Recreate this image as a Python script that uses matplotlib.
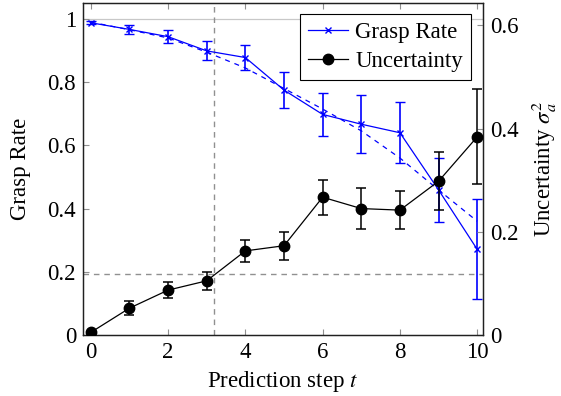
import numpy as np
import matplotlib.pyplot as plt
from matplotlib.lines import Line2D

plt.rcParams['font.family'] = ['Liberation Serif', 'DejaVu Serif']
plt.rcParams['mathtext.fontset'] = 'stix'

# прогноз по шагам
steps = np.arange(0, 11)
grasp = [0.988, 0.967, 0.944, 0.899, 0.878, 0.775, 0.698, 0.667, 0.640, 0.459, 0.271]
grasp_err = [0.005, 0.015, 0.021, 0.030, 0.040, 0.056, 0.068, 0.091, 0.096, 0.100, 0.158]
grasp_ref = [0.990, 0.966, 0.940, 0.895, 0.845, 0.780, 0.715, 0.646, 0.560, 0.459, 0.360]
unc = [0.005, 0.052, 0.087, 0.105, 0.163, 0.173, 0.267, 0.245, 0.242, 0.298, 0.384]
unc_err = [0.0, 0.013, 0.015, 0.018, 0.022, 0.027, 0.034, 0.040, 0.037, 0.056, 0.092]
x_thr = 3.19  # порог по шагу
y_thr = 0.193  # порог по доле захвата

fs = 16.5
fig = plt.figure(figsize=(5.61, 3.96), dpi=100)
ax1 = fig.add_axes([0.148, 0.154, 0.713, 0.838])
ax2 = ax1.twinx()

blue = '#0000ff'
ax1.axhline(1.0, color='#c8c8c8', lw=0.9, zorder=1)
ax1.axhline(y_thr, color='#909090', lw=1.0, ls=(0, (4, 3.5)), zorder=1)
ax1.axvline(x_thr, color='#909090', lw=1.0, ls=(0, (4, 3.5)), zorder=1)

ax1.plot(steps, grasp_ref, color=blue, lw=0.9, ls=(0, (4, 4)), zorder=3)
ax1.errorbar(steps, grasp, yerr=grasp_err, color=blue, lw=0.9, marker='x', ms=5,
             mew=1.0, elinewidth=1.2, capsize=3.6, capthick=1.2, zorder=4)

ax2.errorbar(steps, unc, yerr=unc_err, color='black', lw=0.9, marker='o', ms=7.5,
             elinewidth=1.1, capsize=3.6, capthick=1.1, zorder=4)

ax1.set_xlim(-0.2, 10.15)
ax1.set_ylim(0, 1.05)
ax2.set_ylim(0, 0.643)

ax1.set_xticks(range(0, 11, 2))
ax1.set_yticks([0, 0.2, 0.4, 0.6, 0.8, 1.0])
ax1.set_yticklabels(['0', '0.2', '0.4', '0.6', '0.8', '1'])
ax2.set_yticks([0, 0.2, 0.4, 0.6])
ax2.set_yticklabels(['0', '0.2', '0.4', '0.6'])

ax1.tick_params(axis='both', direction='in', length=4.5, width=0.8, color='#909090',
                labelsize=fs, pad=5)
ax1.tick_params(axis='x', top=True)
ax2.tick_params(axis='y', direction='in', length=4.5, width=0.8, color='#909090',
                labelsize=fs, pad=5)

for a in (ax1, ax2):
    for s in a.spines.values():
        s.set_linewidth(0.9)
        s.set_color('#202020')

ax1.set_xlabel('Prediction step $t$', fontsize=fs, labelpad=4)
ax1.set_ylabel('Grasp Rate', fontsize=fs, labelpad=12)
ax2.set_ylabel(r'Uncertainty $\sigma_a^2$', fontsize=fs, labelpad=8)

handles = [Line2D([], [], color=blue, lw=0.9, marker='x', ms=5),
           Line2D([], [], color='black', lw=0.9, marker='o', ms=7.5)]
leg = ax2.legend(handles, ['Grasp Rate', 'Uncertainty'], loc='upper right',
                 bbox_to_anchor=(0.97, 0.967), borderaxespad=0, fontsize=fs,
                 fancybox=False, framealpha=1, edgecolor='black', handlelength=1.75,
                 handletextpad=0.3, borderpad=0.35, labelspacing=0.35)
leg.get_frame().set_linewidth(0.8)

fig.savefig('out.png', dpi=100)
